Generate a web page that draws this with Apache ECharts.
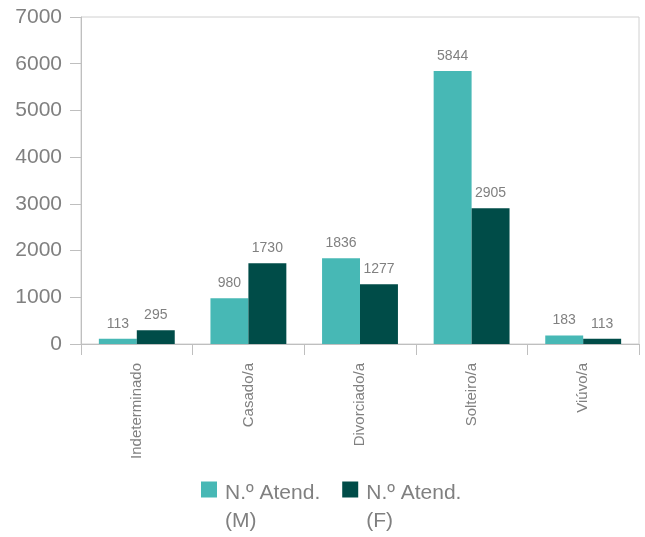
<!DOCTYPE html>
<html>
<head>
<meta charset="utf-8">
<script src="https://cdn.jsdelivr.net/npm/echarts@6/dist/echarts.min.js"></script>
<style>
  html, body { margin: 0; padding: 0; background: #fff; }
  #chart { width: 645px; height: 537px; }
</style>
</head>
<body>
<div id="chart"></div>
<script>
// categorias e valores
const categories = ['Indeterminado', 'Casado/a', 'Divorciado/a', 'Solteiro/a', 'Viúvo/a']
const seriesNames = ['N.º Atend. (M)', 'N.º Atend. (F)']
const valuesM = [113, 980, 1836, 5844, 183]
const valuesF = [295, 1730, 1277, 2905, 113]

const textColor = '#808080'
const lineColor = '#bfbfbf'
const font = 'Liberation Sans, Arial, sans-serif'

const chart = echarts.init(document.getElementById('chart'))

const labelOpt = {
  show: true,
  position: 'top',
  distance: 8,
  color: textColor,
  fontSize: 14,
  fontFamily: font
}

const option = {
  animation: false,
  grid: {
    left: 81,
    right: 6,
    top: 17,
    bottom: 193,
    show: true,
    borderColor: '#d0d0d0',
    borderWidth: 1
  },
  legend: {
    left: 196,
    top: 456,
    itemWidth: 16,
    itemHeight: 16,
    itemGap: 22,
    icon: 'rect',
    // espaçador no topo para o ícone ficar alinhado com a 1ª linha
    formatter: (name) => '{s| }\n{a|' + name.replace(' (', '}\n{a|(') + '}',
    textStyle: {
      color: textColor,
      fontSize: 21,
      fontFamily: font,
      rich: {
        s: { fontSize: 1, lineHeight: 36 },
        a: { fontSize: 21, lineHeight: 28, color: textColor, fontFamily: font, padding: [0, 0, 0, 3] }
      }
    }
  },
  xAxis: {
    type: 'category',
    data: categories,
    axisLine: { lineStyle: { color: lineColor, width: 1 } },
    axisTick: { show: true, length: 11, interval: 0, lineStyle: { color: lineColor } },
    axisLabel: {
      rotate: 90,
      interval: 0,
      margin: 19,
      color: textColor,
      fontSize: 15,
      fontFamily: font
    }
  },
  yAxis: {
    type: 'value',
    min: 0,
    max: 7000,
    interval: 1000,
    splitLine: { show: false },
    axisLine: { show: true, lineStyle: { color: lineColor, width: 1 } },
    axisTick: { show: true, length: 11, lineStyle: { color: lineColor } },
    axisLabel: {
      margin: 19,
      color: textColor,
      fontSize: 21,
      fontFamily: font,
      formatter: (v) => String(v)
    }
  },
  series: [
    {
      name: seriesNames[0],
      type: 'bar',
      data: valuesM,
      barGap: '0%',
      barCategoryGap: '32%',
      itemStyle: { color: '#47b8b5' },
      label: labelOpt
    },
    {
      name: seriesNames[1],
      type: 'bar',
      data: valuesF,
      barGap: '0%',
      barCategoryGap: '32%',
      itemStyle: { color: '#004c48' },
      label: labelOpt
    }
  ]
}

chart.setOption(option)
</script>
</body>
</html>
